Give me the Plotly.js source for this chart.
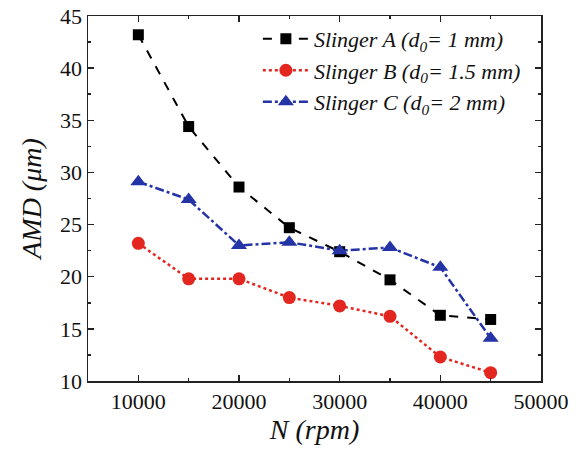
<!DOCTYPE html>
<html>
<head>
<meta charset="utf-8">
<script src="https://cdn.plot.ly/plotly-3.0.1.min.js"></script>
<style>html,body{margin:0;padding:0;background:#fff;}#chart{width:578px;height:452px;}</style>
</head>
<body>
<div id="chart"></div>
<script>
const speeds = [10000, 15000, 20000, 25000, 30000, 35000, 40000, 45000];
const slingerA = [43.2, 34.4, 28.6, 24.7, 22.4, 19.7, 16.3, 15.9];
const slingerB = [23.2, 19.8, 19.8, 18.0, 17.2, 16.2, 12.3, 10.8];
const slingerC = [29.1, 27.4, 23.0, 23.3, 22.5, 22.8, 20.9, 14.1];
const seriesNames = [
  '<i>Slinger A (d<sub>0</sub>= 1 mm)</i>',
  '<i>Slinger B (d<sub>0</sub>= 1.5 mm)</i>',
  '<i>Slinger C (d<sub>0</sub>= 2 mm)</i>'
];

const font = '"Liberation Serif", "Times New Roman", "DejaVu Serif", serif';
const traces = [
  {x: speeds, y: slingerA, name: seriesNames[0], mode: 'lines+markers',
   line: {color: '#000000', dash: 'dash', width: 2},
   marker: {symbol: 'square', size: 11, color: '#000000'}},
  {x: speeds, y: slingerB, name: seriesNames[1], mode: 'lines+markers',
   line: {color: '#e3261f', dash: 'dot', width: 2.5},
   marker: {symbol: 'circle', size: 13, color: '#e3261f'}},
  {x: speeds, y: slingerC, name: seriesNames[2], mode: 'lines+markers',
   line: {color: '#2433a6', dash: 'dashdot', width: 2.5},
   marker: {symbol: 'triangle-up', size: 14, color: '#2433a6'}}
];

const axisCommon = {
  showline: true, mirror: 'ticks', linecolor: '#222', linewidth: 1.5,
  ticks: 'inside', ticklen: 6, tickwidth: 1.5, tickcolor: '#222',
  showgrid: false, zeroline: false,
  tickfont: {family: font, size: 22, color: '#111'}
};

const layout = {
  width: 578, height: 452,
  margin: {l: 88, r: 37, t: 16, b: 71},
  paper_bgcolor: '#ffffff', plot_bgcolor: '#ffffff',
  font: {family: font},
  showlegend: true,
  legend: {x: 0.375, y: 0.995, xanchor: 'left', yanchor: 'top',
           bgcolor: 'rgba(0,0,0,0)', borderwidth: 0, itemwidth: 46,
           font: {family: font, size: 22, color: '#111'}, tracegroupgap: 0},
  xaxis: Object.assign({}, axisCommon, {
    range: [5000, 50000], tickvals: [10000, 20000, 30000, 40000, 50000],
    ticktext: ['10000', '20000', '30000', '40000', '50000'],
    minor: {dtick: 5000, ticks: 'inside', ticklen: 3, tickcolor: '#222', tickwidth: 1.5, showgrid: false},
    title: {text: '<i>N (rpm)</i>', font: {family: font, size: 28, color: '#111'}, standoff: 6}
  }),
  yaxis: Object.assign({}, axisCommon, {
    range: [10, 45], dtick: 5,
    minor: {dtick: 2.5, ticks: 'inside', ticklen: 3, tickcolor: '#222', tickwidth: 1.5, showgrid: false},
    title: {text: '<i>AMD (μm)</i>', font: {family: font, size: 28, color: '#111'}, standoff: 10}
  })
};

Plotly.newPlot('chart', traces, layout, {displayModeBar: false, staticPlot: true});
</script>
</body>
</html>
